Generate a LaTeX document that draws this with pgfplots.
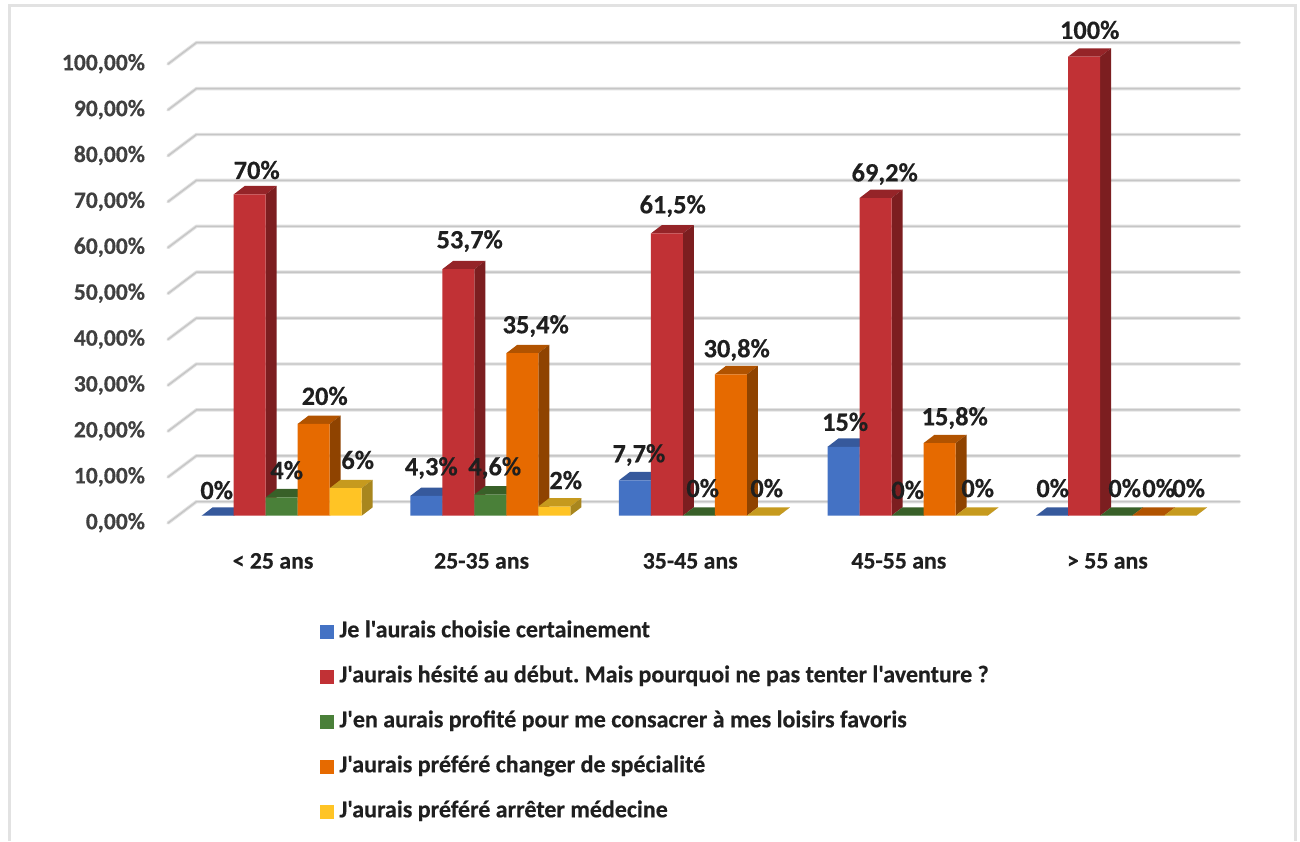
\documentclass[border=0pt]{standalone}
\usepackage{fontspec}
\setmainfont{Carlito}[Ligatures=TeXOff,BoldFeatures={FakeBold=0.4}]
\usepackage{pgfplots}
\usepackage{pgfplotstable}
\pgfplotsset{compat=1.18}

\definecolor{cblue}{HTML}{4472C4}\definecolor{cblueS}{HTML}{2F4F8C}\definecolor{cblueT}{HTML}{36599C}
\definecolor{cred}{HTML}{C13135}\definecolor{credS}{HTML}{7C1E20}\definecolor{credT}{HTML}{952428}
\definecolor{cgreen}{HTML}{4A8039}\definecolor{cgreenS}{HTML}{2F5527}\definecolor{cgreenT}{HTML}{386028}
\definecolor{corange}{HTML}{E66A00}\definecolor{corangeS}{HTML}{8F4300}\definecolor{corangeT}{HTML}{B15300}
\definecolor{cyellow}{HTML}{FFC425}\definecolor{cyellowS}{HTML}{A8861E}\definecolor{cyellowT}{HTML}{C69A1E}
\definecolor{gridc}{HTML}{C6C6C6}\definecolor{gridl}{HTML}{E2E2E2}

% x, value, label shift in pt from the top of the bar
\pgfplotstableread{
x y lx ly
0 0 -0.5 12.8
1 4.3 2.5 14
2 7.7 2 12.7
3 15 0.8 12.5
4 0 0.3 13.8
}\tblue
\pgfplotstableread{
x y lx ly
0 70 3.5 12.2
1 53.7 5.7 14.1
2 61.5 2.9 13.7
3 69.2 4.6 12
4 100 2.8 13.4
}\tred
\pgfplotstableread{
x y lx ly
0 4 2.5 13.6
1 4.6 2.2 13.3
2 0 1.9 13.8
3 0 0.1 12.9
4 0 4.3 13.8
}\tgreen
\pgfplotstableread{
x y lx ly
0 20 5.5 14
1 35.4 6.7 13.6
2 30.8 2.9 12.2
3 15.8 7.6 12.6
4 0 5.3 13.8
}\torange
\pgfplotstableread{
x y lx ly
0 6 6 14.1
1 2 5.7 13.2
2 0 1.9 13.8
3 0 3.1 13.8
4 0 4.3 13.8
}\tyellow

% side and top faces of one bar: centre x, value, side colour, top colour
\newcommand{\faces}[4]{%
  \pgfmathsetmacro\xl{#1-0.0767}\pgfmathsetmacro\xr{#1+0.0767}%
  \pgfmathsetmacro\xc{\xl+0.0527}\pgfmathsetmacro\xb{\xr+0.0527}%
  \pgfmathsetmacro\yb{#2+1.83}%
  \addplot[fill=#4,draw=none,forget plot] coordinates {(\xl,#2)(\xr,#2)(\xb,\yb)(\xc,\yb)} --cycle;
  \addplot[fill=#3,draw=none,forget plot] coordinates {(\xr,0)(\xb,1.83)(\xb,\yb)(\xr,#2)} --cycle;
}
\pgfplotsset{
  gridb/.style={gridl,line width=1.7pt,line cap=round,line join=round,forget plot},
  gridf/.style={gridc,line width=0.7pt,line cap=round,line join=round,forget plot},
  front/.style={ybar,bar width=0.1534,draw=none,
    legend image code/.code={\fill[##1] (0pt,-3.5pt) rectangle (7pt,3.5pt);}},
  barlabel/.style={draw=none,mark=none,forget plot,point meta=y,
    visualization depends on={\thisrow{lx} \as \lx},
    visualization depends on={\thisrow{ly} \as \ly},
    nodes near coords={\pgfmathprintnumber[fixed,use comma,precision=1,assume math mode=true]{\pgfplotspointmeta}\%},
    every node near coord/.append style={anchor=center,inner sep=0pt,font=\fontsize{13.2}{15}\selectfont\bfseries,
      text=black!88,xshift=\lx pt,yshift=\ly pt}},
}
\newcommand{\gridrow}[2]{%
  \addplot[gridb] coordinates {(-0.545,#1)(-0.409,#2)(4.591,#2)};
  \addplot[gridf] coordinates {(-0.545,#1)(-0.409,#2)(4.591,#2)};
}

\begin{document}
\frenchspacing
\begin{tikzpicture}
  \path[use as bounding box,fill=white] (0,0) rectangle (650pt,420.5pt);
  \draw[gridl,line width=1.5pt] (4.5pt,0pt) -- (4.5pt,417.5pt) -- (647.5pt,417.5pt) -- (647.5pt,0pt);
  \begin{axis}[
      at={(88.7pt,162.65pt)}, anchor=south west,
      scale only axis, width=521.5pt, height=229.5pt,
      xmin=-0.5, xmax=4.5, ymin=0, ymax=100, clip=false,
      axis line style={draw=none}, major tick length=0pt,
      xtick={0,1,2,3,4},
      xticklabels={< 25 ans,25-35 ans,35-45 ans,45-55 ans,> 55 ans},
      ytick={0,10,...,100},
      yticklabel={\pgfmathprintnumber[fixed,fixed zerofill,precision=2,use comma,assume math mode=true]{\tick}\%},
      xticklabel style={font=\fontsize{11.9}{14}\selectfont\bfseries,text=black!88,anchor=center,inner sep=0pt,xshift=-4.35pt,yshift=-22.6pt},
      yticklabel style={font=\fontsize{11.8}{14}\selectfont\bfseries,text=black!75,anchor=east,inner sep=0pt,xshift=-16pt,yshift=-3.5pt},
      legend style={at={(0.1367,-0.227)},anchor=north west,draw=none,fill=none,inner sep=0pt,
        font=\fontsize{12}{14}\selectfont\bfseries,text=black!88,row sep=11pt,
        nodes={text height=8.5pt,text depth=3pt,inner sep=0pt},
        /tikz/every odd column/.append style={column sep=2.5pt}},
      legend cell align=left,
    ]
    \gridrow{-1.59}{3.05}
    \gridrow{8.41}{13.05}
    \gridrow{18.41}{23.05}
    \gridrow{28.41}{33.05}
    \gridrow{38.41}{43.05}
    \gridrow{48.41}{53.05}
    \gridrow{58.41}{63.05}
    \gridrow{68.41}{73.05}
    \gridrow{78.41}{83.05}
    \gridrow{88.41}{93.05}
    \gridrow{98.41}{103.05}

    \faces{-0.3068}{0}{cblueS}{cblueT}
    \faces{0.6932}{4.3}{cblueS}{cblueT}
    \faces{1.6932}{7.7}{cblueS}{cblueT}
    \faces{2.6932}{15}{cblueS}{cblueT}
    \faces{3.6932}{0}{cblueS}{cblueT}
    \addplot[front,bar shift=-0.3068,fill=cblue] table[x=x,y=y] {\tblue};
    \addlegendentry{Je l'aurais choisie certainement}

    \faces{-0.1534}{70}{credS}{credT}
    \faces{0.8466}{53.7}{credS}{credT}
    \faces{1.8466}{61.5}{credS}{credT}
    \faces{2.8466}{69.2}{credS}{credT}
    \faces{3.8466}{100}{credS}{credT}
    \addplot[front,bar shift=-0.1534,fill=cred] table[x=x,y=y] {\tred};
    \addlegendentry{J'aurais hésité au début. Mais pourquoi ne pas tenter l'aventure ?}

    \faces{0}{4}{cgreenS}{cgreenT}
    \faces{1}{4.6}{cgreenS}{cgreenT}
    \faces{2}{0}{cgreenS}{cgreenT}
    \faces{3}{0}{cgreenS}{cgreenT}
    \faces{4}{0}{cgreenS}{cgreenT}
    \addplot[front,bar shift=0,fill=cgreen] table[x=x,y=y] {\tgreen};
    \addlegendentry{J'en aurais profité pour me consacrer à mes loisirs favoris}

    \faces{0.1534}{20}{corangeS}{corangeT}
    \faces{1.1534}{35.4}{corangeS}{corangeT}
    \faces{2.1534}{30.8}{corangeS}{corangeT}
    \faces{3.1534}{15.8}{corangeS}{corangeT}
    \faces{4.1534}{0}{corangeS}{corangeT}
    \addplot[front,bar shift=0.1534,fill=corange] table[x=x,y=y] {\torange};
    \addlegendentry{J'aurais préféré changer de spécialité}

    \faces{0.3068}{6}{cyellowS}{cyellowT}
    \faces{1.3068}{2}{cyellowS}{cyellowT}
    \faces{2.3068}{0}{cyellowS}{cyellowT}
    \faces{3.3068}{0}{cyellowS}{cyellowT}
    \faces{4.3068}{0}{cyellowS}{cyellowT}
    \addplot[front,bar shift=0.3068,fill=cyellow] table[x=x,y=y] {\tyellow};
    \addlegendentry{J'aurais préféré arrêter médecine}

    % labels last so that they sit on top of the bars
    \addplot[barlabel] table[x expr=\thisrow{x}-0.3068,y=y] {\tblue};
    \addplot[barlabel] table[x expr=\thisrow{x}-0.1534,y=y] {\tred};
    \addplot[barlabel] table[x=x,y=y] {\tgreen};
    \addplot[barlabel] table[x expr=\thisrow{x}+0.1534,y=y] {\torange};
    \addplot[barlabel] table[x expr=\thisrow{x}+0.3068,y=y] {\tyellow};
  \end{axis}
\end{tikzpicture}
\end{document}
